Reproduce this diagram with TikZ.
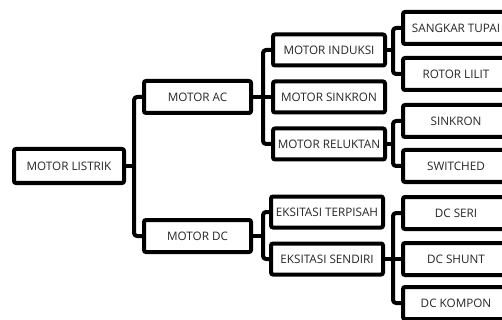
\documentclass[tikz,border=0pt]{standalone}
\usepackage{fontspec}
\setmainfont{Open Sans}
\begin{document}
\begin{tikzpicture}[x=1pt,y=-1pt,
  box/.style={draw=black, line width=4pt, rounded corners=2pt, inner sep=0pt,
    minimum height=31pt, font=\fontsize{11.7}{13}\selectfont, text=black!85},
  lvlA/.style={box, minimum width=110pt, minimum height=34pt},
  lvlB/.style={box, minimum width=107pt, minimum height=32pt},
  lvlC/.style={box, minimum width=112pt},
  lvlD/.style={box, minimum width=106pt, minimum height=32pt},
  conn/.style={line width=4pt, rounded corners=3pt, line join=round}]
\useasboundingbox (0,0) rectangle (502,320);
\clip (0,0) rectangle (502,320);
\fill[white] (0,0) rectangle (502,320);
\node[lvlA] (listrik) at (69,166) {MOTOR LISTRIK};
\node[lvlB] (ac) at (197.5,97) {MOTOR AC};
\node[lvlB] (dc) at (197.5,236) {MOTOR DC};
\node[lvlC] (induksi) at (329,50) {MOTOR INDUKSI};
\node[lvlC] (sinkron) at (329,97) {MOTOR SINKRON};
\node[lvlC] (reluktan) at (329,144) {MOTOR RELUKTAN};
\node[lvlC] (terpisah) at (327,212) {EKSITASI TERPISAH};
\node[lvlC] (sendiri) at (327,259) {EKSITASI SENDIRI};
\node[lvlD] (tupai) at (456,28) {SANGKAR TUPAI};
\node[lvlD] (lilit) at (456,74) {ROTOR LILIT};
\node[lvlD] (sinkron2) at (456,121) {SINKRON};
\node[lvlD] (switched) at (456,166) {SWITCHED};
\node[lvlD] (seri) at (456,213) {DC SERI};
\node[lvlD] (shunt) at (456,259) {DC SHUNT};
\node[lvlD] (kompon) at (456,303) {DC KOMPON};
\coordinate (j1) at (134,0);
\coordinate (j2) at (263,0);
\coordinate (j3) at (393,0);
% level 1
\draw[conn] (ac.west) -| (j1 |- dc.west) -- (dc.west);
\draw[conn] (listrik.east) -- (j1 |- listrik.east);
% level 2
\draw[conn] (induksi.west) -| (j2 |- reluktan.west) -- (reluktan.west);
\draw[conn] (sinkron.west) -- (j2 |- sinkron.west);
\draw[conn] (ac.east) -- (j2 |- ac.east);
\draw[conn] (terpisah.west) -| (j2 |- sendiri.west) -- (sendiri.west);
\draw[conn] (dc.east) -- (j2 |- dc.east);
% level 3
\draw[conn] (tupai.west) -| (j3 |- lilit.west) -- (lilit.west);
\draw[conn] (induksi.east) -- (j3 |- induksi.east);
\draw[conn] (sinkron2.west) -| (j3 |- switched.west) -- (switched.west);
\draw[conn] (reluktan.east) -- (j3 |- reluktan.east);
\draw[conn] (seri.west) -| (j3 |- kompon.west) -- (kompon.west);
\draw[conn] (shunt.west) -- (j3 |- shunt.west);
\draw[conn] (sendiri.east) -- (j3 |- sendiri.east);
\end{tikzpicture}
\end{document}
